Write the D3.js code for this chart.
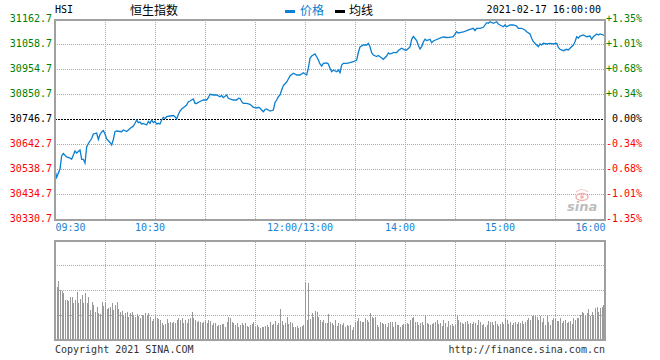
<!DOCTYPE html>
<html><head><meta charset="utf-8">
<script src="https://cdn.jsdelivr.net/npm/d3@7"></script>
<style>
body{margin:0;background:#fff}
svg{display:block}
text{font-family:"DejaVu Sans Mono",monospace;font-size:10px}
</style>
</head><body>
<svg id="c" width="660" height="360"></svg>
<script>
// ---------- data ----------
const prevClose = 30746.7;
const yTicks = [31162.7, 31058.7, 30954.7, 30850.7, 30746.7, 30642.7, 30538.7, 30434.7, 30330.7];
const pctLabels = ["+1.35%", "+1.01%", "+0.68%", "+0.34%", "0.00%", "-0.34%", "-0.68%", "-1.01%", "-1.35%"];
const gridMinutes = [30, 60, 90, 120, 150, 180, 210, 240, 270, 300];
const timeLabelMinutes = [0, 60, 150, 210, 270, 330];
const timeLabels = ["09:30", "10:30", "12:00/13:00", "14:00", "15:00", "16:00"];
const volGrid = [25, 50, 75];

const priceMinutes = [0,1,3,4,5,7,9,10,12,13,15,16,17,18,19,20,21,22,23,25,26,27,28,29,30,31,33,34,35,36,37,40,41,43,44,45,47,48,49,50,51,52,53,55,56,57,58,59,60,61,62,63,64,65,66,67,69,71,72,73,74,75,76,77,79,80,81,83,84,85,86,87,89,91,92,93,95,97,99,100,101,103,104,105,107,109,110,111,112,113,115,117,118,119,120,121,122,123,124,125,126,127,128,129,131,132,133,134,135,136,137,139,140,141,143,145,147,149,150,151,152,153,154,156,157,158,159,160,161,163,164,165,166,167,169,170,171,172,173,175,177,179,181,182,183,185,187,188,189,190,191,193,194,196,197,199,200,201,203,205,206,208,210,211,213,214,215,217,218,219,220,221,222,223,225,226,227,229,230,231,233,235,237,239,241,242,243,245,247,249,251,252,253,255,257,259,260,261,263,265,266,267,269,270,271,273,275,277,278,280,282,283,285,286,287,289,290,291,292,293,295,297,299,301,302,303,305,307,308,309,311,312,313,314,315,317,319,321,322,323,325,326,327,329,330];
const priceValues = [30538.7,30508.3,30542.9,30596.9,30607.3,30592.8,30588.6,30583.2,30617.7,30609.4,30621.9,30583.2,30583.2,30567.8,30634.4,30648.9,30659.3,30669.7,30688.5,30692.6,30665.6,30686.4,30696.8,30703.0,30688.5,30667.7,30653.1,30642.7,30665.6,30698.0,30700.9,30698.0,30705.1,30698.9,30705.1,30711.3,30721.7,30733.0,30746.7,30735.5,30738.4,30730.1,30732.1,30725.9,30740.5,30733.0,30746.7,30736.3,30740.5,30730.1,30733.0,30730.1,30746.7,30757.1,30752.9,30760.4,30763.3,30765.4,30760.4,30750.9,30769.6,30784.1,30792.5,30797.9,30809.1,30822.8,30825.7,30834.1,30816.2,30815.3,30820.3,30823.7,30829.9,30829.9,30839.5,30853.6,30850.7,30850.7,30843.6,30848.6,30839.5,30850.7,30837.0,30834.1,30829.9,30829.9,30837.0,30837.0,30822.8,30816.2,30816.2,30812.0,30806.2,30799.5,30797.9,30796.6,30799.5,30796.6,30788.3,30781.2,30790.4,30792.5,30788.3,30784.1,30788.3,30819.5,30829.9,30843.6,30850.7,30871.5,30890.2,30904.8,30917.3,30929.7,30941.0,30933.9,30933.9,30943.5,30938.1,30933.9,30961.8,31003.4,31012.9,31021.3,31010.0,30996.3,30979.7,30971.3,30982.6,30983.8,30979.7,30961.8,30947.6,30954.7,30947.6,30954.7,30943.5,30975.5,30982.6,30982.6,30985.1,30989.2,30996.3,31027.5,31050.4,31058.7,31058.7,31065.8,31051.6,31026.7,31017.1,31010.9,31015.0,31004.6,30999.2,31012.9,31025.4,31021.3,31026.7,31026.7,31035.8,31045.0,31037.9,31037.9,31050.4,31082.4,31094.1,31077.4,31056.6,31042.1,31051.6,31071.2,31082.4,31077.4,31082.4,31068.3,31075.3,31081.6,31083.7,31087.8,31092.0,31089.9,31090.7,31093.2,31114.0,31108.6,31109.9,31112.8,31118.2,31124.0,31128.2,31118.2,31128.2,31128.2,31132.3,31151.5,31149.0,31155.6,31149.0,31155.6,31146.1,31141.9,31134.8,31141.9,31134.8,31141.9,31141.9,31137.7,31128.2,31128.2,31121.1,31114.0,31104.5,31086.6,31072.4,31058.7,31051.6,31062.9,31058.7,31065.8,31062.9,31065.8,31062.9,31065.8,31049.1,31040.8,31035.0,31040.8,31037.9,31045.0,31058.7,31072.4,31093.2,31087.8,31096.1,31100.3,31093.2,31096.1,31082.4,31093.2,31104.5,31100.3,31104.5,31100.3,31096.1];

const volumes = [52,
53,59,50,49,47,40,40,39,43,43,
37,40,48,37,41,45,37,47,37,43,
30,38,35,28,33,27,26,38,34,37,
31,32,33,37,30,35,38,31,28,29,
24,27,28,23,27,28,25,23,26,24,
22,25,24,27,24,27,23,19,21,23,
22,21,20,17,15,16,21,17,18,17,
18,17,20,22,20,22,17,20,17,21,
22,28,22,20,18,19,18,17,18,19,
17,20,19,15,17,17,14,15,15,16,
16,13,18,23,22,18,17,15,17,13,
15,17,15,17,14,13,15,16,18,13,
15,13,12,13,13,14,15,13,18,15,
16,19,15,17,31,19,15,17,23,16,
18,17,13,13,14,12,13,14,15,58,
20,57,21,27,23,29,28,23,20,18,
20,17,17,26,18,17,15,20,14,17,
16,15,17,13,15,14,
15,10,13,18,19,22,19,18,18,22,
20,18,27,23,22,23,15,13,18,17,
16,16,13,17,18,18,13,18,15,15,
13,15,16,16,17,16,20,22,23,18,
18,15,17,18,15,25,17,16,15,16,
17,18,20,16,17,14,20,17,13,19,
15,16,14,15,24,20,18,17,16,18,
19,16,17,16,18,17,15,20,18,15,
16,13,15,19,18,18,15,19,16,14,
16,18,16,22,20,16,18,15,17,18,
16,18,17,19,16,18,20,22,20,24,
25,24,23,20,24,18,22,15,25,18,
15,20,22,21,19,19,22,17,19,20,
17,18,19,16,22,20,22,22,25,28,
27,24,27,31,24,28,25,32,33,28,
32,33,35,41];

// ---------- layout ----------
const L = 55, R = 605, T = 20, B = 220, VT = 240, VB = 340;
const GRID = "#a8a8a8", FRAME = "#a0a0a0", BLUE = "#0b7fd1", TBLUE = "#1a82d2";
const GREEN = "#008000", RED = "#ff0000";

const svg = d3.select("#c");
const x = d3.scaleLinear().domain([0, 330]).range([L, R]);
const y = d3.scaleLinear().domain([yTicks[yTicks.length - 1], yTicks[0]]).range([B, T]);
const yv = d3.scaleLinear().domain([0, 100]).range([VB, VT]);

const colorFor = v => v > prevClose + 0.01 ? GREEN : (v < prevClose - 0.01 ? RED : "#000");

// ---------- header ----------
svg.append("text").attr("x", 55).attr("y", 13).attr("fill", "#000").text("HSI");
svg.append("text").attr("x", 130).attr("y", 14.5)
  .style("font-family", "'Noto Sans CJK SC',sans-serif").style("font-size", "12px")
  .attr("fill", "#000").text("恒生指数");
svg.append("rect").attr("x", 285).attr("y", 10).attr("width", 10).attr("height", 3).attr("fill", BLUE);
svg.append("text").attr("x", 300).attr("y", 14.5)
  .style("font-family", "'Noto Sans CJK SC',sans-serif").style("font-size", "12px")
  .attr("fill", BLUE).text("价格");
svg.append("rect").attr("x", 335).attr("y", 10).attr("width", 10).attr("height", 3).attr("fill", "#000");
svg.append("text").attr("x", 349).attr("y", 14.5)
  .style("font-family", "'Noto Sans CJK SC',sans-serif").style("font-size", "12px")
  .attr("fill", "#000").text("均线");
svg.append("text").attr("x", 601).attr("y", 13).attr("text-anchor", "end").attr("fill", "#000")
  .text("2021-02-17 16:00:00");

// ---------- grids ----------
const g = svg.append("g").attr("shape-rendering", "crispEdges");
g.selectAll(".hg").data(yTicks.slice(1, -1).filter(v => v !== prevClose)).join("line")
  .attr("x1", L).attr("x2", R)
  .attr("y1", d => Math.round(y(d)) - 0.5).attr("y2", d => Math.round(y(d)) - 0.5)
  .attr("stroke", GRID).attr("stroke-dasharray", "1,1");
g.selectAll(".vg").data(gridMinutes).join("line")
  .attr("x1", d => Math.round(x(d)) + 0.5).attr("x2", d => Math.round(x(d)) + 0.5)
  .attr("y1", T).attr("y2", B).attr("stroke", GRID).attr("stroke-dasharray", "1,1");
g.selectAll(".vg2").data(gridMinutes).join("line")
  .attr("x1", d => Math.round(x(d)) + 0.5).attr("x2", d => Math.round(x(d)) + 0.5)
  .attr("y1", VT).attr("y2", VB).attr("stroke", GRID).attr("stroke-dasharray", "1,1");
g.selectAll(".vh").data(volGrid).join("line")
  .attr("x1", L).attr("x2", R)
  .attr("y1", d => Math.round(yv(d)) + 0.5).attr("y2", d => Math.round(yv(d)) + 0.5)
  .attr("stroke", GRID).attr("stroke-dasharray", "1,1");
g.append("line").attr("x1", L).attr("x2", R)
  .attr("y1", Math.round(y(prevClose)) - 0.5).attr("y2", Math.round(y(prevClose)) - 0.5)
  .attr("stroke", "#000").attr("stroke-dasharray", "2,1");

// ---------- sina watermark ----------
const wm = svg.append("g");
wm.append("ellipse").attr("cx", 582).attr("cy", 197).attr("rx", 6).attr("ry", 3.5)
  .attr("fill", "none").attr("stroke", "#f3b0b0").attr("stroke-width", 1.5);
wm.append("circle").attr("cx", 582).attr("cy", 197).attr("r", 1.8).attr("fill", "#f3b0b0");
wm.append("path").attr("d", "M576,192 Q582,187 588,192").attr("fill", "none").attr("stroke", "#f6c4c4").attr("stroke-width", 1.2);
wm.append("text").attr("x", 567).attr("y", 211)
  .style("font-family", "'DejaVu Sans',sans-serif").style("font-size", "13px")
  .style("font-style", "italic").style("font-weight", "bold")
  .attr("fill", "#bdbdbd").text("sina");

// ---------- volume bars ----------
svg.append("g").attr("shape-rendering", "crispEdges")
  .selectAll("rect").data(volumes).join("rect")
  .attr("x", (d, i) => Math.round(x(i)))
  .attr("width", 1)
  .attr("y", d => yv(d))
  .attr("height", d => VB - yv(d))
  .attr("fill", "#999");

// ---------- price line ----------
const pts = priceMinutes.map((m, i) => [m, priceValues[i]]);
svg.append("path").datum(pts)
  .attr("d", d3.line().x(d => x(d[0])).y(d => y(d[1])))
  .attr("fill", "none").attr("stroke", BLUE).attr("stroke-width", 1.3)
  .attr("stroke-linejoin", "miter");

// ---------- frames ----------
const fr = svg.append("g").attr("shape-rendering", "crispEdges").attr("fill", "none")
  .attr("stroke", FRAME).attr("stroke-width", 2);
fr.append("rect").attr("x", L).attr("y", T).attr("width", R - L).attr("height", B - T);
fr.append("rect").attr("x", L).attr("y", VT + 1).attr("width", R - L).attr("height", VB - VT - 1);

// ---------- axes labels ----------
const leftAxis = d3.axisLeft(y).tickValues(yTicks).tickSize(0).tickPadding(0)
  .tickFormat(d => d.toFixed(1));
const la = svg.append("g").attr("transform", `translate(${L - 3},0)`).call(leftAxis);
la.select(".domain").remove();
la.selectAll("text").attr("dy", null).attr("y", 1)
  .style("font-family", "'DejaVu Sans Mono',monospace").style("font-size", "10px")
  .attr("fill", d => colorFor(d));

const pctByVal = new Map(yTicks.map((v, i) => [v, pctLabels[i]]));
const rightAxis = d3.axisRight(y).tickValues(yTicks).tickSize(0).tickPadding(0)
  .tickFormat(d => pctByVal.get(d));
const ra = svg.append("g").attr("transform", `translate(642,0)`).call(rightAxis);
ra.select(".domain").remove();
ra.selectAll("text").attr("dy", null).attr("y", 1).attr("text-anchor", "end")
  .style("font-family", "'DejaVu Sans Mono',monospace").style("font-size", "10px")
  .attr("fill", d => colorFor(d));

const labByMin = new Map(timeLabelMinutes.map((m, i) => [m, timeLabels[i]]));
const bottomAxis = d3.axisBottom(x).tickValues(timeLabelMinutes).tickSize(0).tickPadding(0)
  .tickFormat(d => labByMin.get(d));
const ba = svg.append("g").attr("transform", `translate(0,231)`).call(bottomAxis);
ba.select(".domain").remove();
ba.selectAll("text").attr("dy", null).attr("y", 0)
  .style("font-family", "'DejaVu Sans Mono',monospace").style("font-size", "10px")
  .attr("fill", TBLUE)
  .attr("text-anchor", d => d === 0 ? "start" : (d === 330 ? "end" : "middle"))
  .attr("x", d => (d === 0 || d === 330) ? 0 : -5.5);

// ---------- footer ----------
svg.append("text").attr("x", 55).attr("y", 353).attr("fill", "#333").text("Copyright 2021 SINA.COM");
svg.append("text").attr("x", 605).attr("y", 353).attr("text-anchor", "end").attr("fill", "#333")
  .text("http://finance.sina.com.cn");
</script>
</body></html>
